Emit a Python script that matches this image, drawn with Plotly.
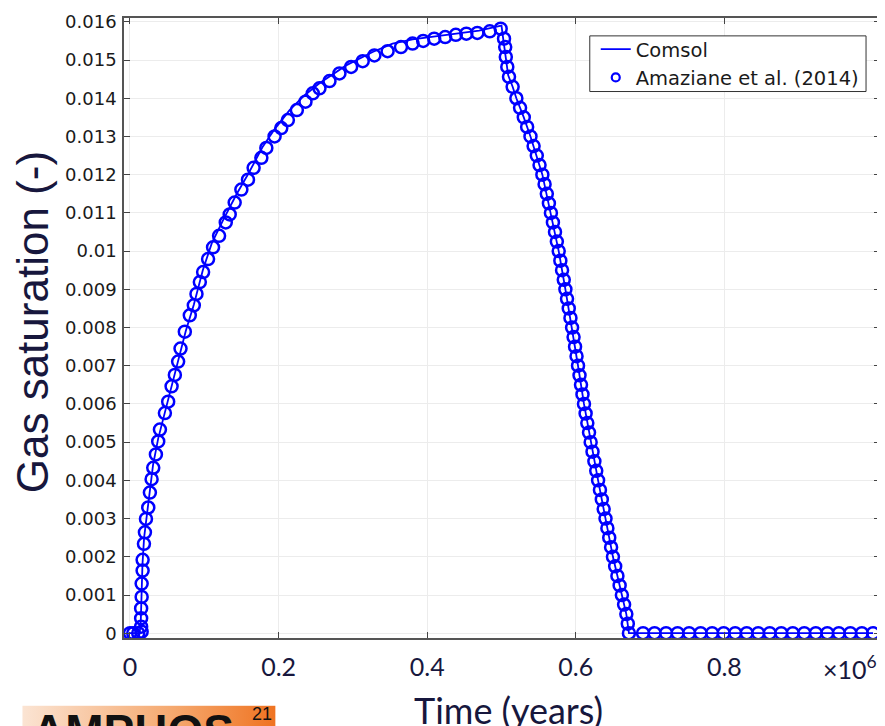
import base64
import plotly.graph_objects as go

# ---------------- data (time in 1e6 years, gas saturation) ----------------
comsol_t = [0.0, 0.013, 0.0145, 0.0155, 0.0168, 0.019, 0.022, 0.026, 0.031, 0.038,
            0.047, 0.056, 0.065, 0.075, 0.086, 0.098, 0.11, 0.125, 0.1432, 0.16,
            0.1789, 0.195, 0.2148, 0.235, 0.255, 0.2909, 0.3266, 0.3534, 0.3803, 0.4251,
            0.4698, 0.4966, 0.5, 0.502, 0.505, 0.509, 0.515, 0.52, 0.53, 0.539,
            0.555, 0.5665, 0.577, 0.586, 0.595, 0.603, 0.611, 0.62, 0.63, 0.64,
            0.65, 0.662, 0.668, 0.6715, 1.0]
comsol_s = [0.0, 0.0, 0.0003, 0.001, 0.0018, 0.0025, 0.003, 0.0037, 0.0044, 0.0051,
            0.0058, 0.0065, 0.0072, 0.0079, 0.0086, 0.0095, 0.0102, 0.0108, 0.01148, 0.01205,
            0.01274, 0.0132, 0.01369, 0.01408, 0.01439, 0.01486, 0.01521, 0.01543, 0.01554, 0.01566,
            0.01577, 0.01589, 0.0159, 0.0156, 0.0151, 0.0146, 0.0143, 0.014, 0.0135, 0.013,
            0.012, 0.011, 0.010, 0.009, 0.008, 0.007, 0.006, 0.005, 0.004, 0.003,
            0.002, 0.001, 0.0005, 0.0, 0.0]

rise_t = [0.0, 0.0044, 0.0111, 0.0157, 0.0150, 0.0150, 0.0150, 0.0157, 0.0157, 0.0170,
          0.0170, 0.0188, 0.0201, 0.0215, 0.0246, 0.0268, 0.0291, 0.0313, 0.0349, 0.0380,
          0.0403, 0.0470, 0.0514, 0.0560, 0.0604, 0.0648, 0.0680, 0.0738, 0.0805, 0.0859,
          0.0895, 0.0940, 0.0984, 0.1051, 0.1118, 0.1199, 0.1289, 0.1342, 0.1409, 0.1499,
          0.1588, 0.1664, 0.1768, 0.1835, 0.1946, 0.2036, 0.2125, 0.2246, 0.2362, 0.2460,
          0.2550, 0.2685, 0.2819, 0.2976, 0.3132, 0.3289, 0.3467, 0.3647, 0.3803, 0.3946,
          0.4094, 0.4242, 0.4385, 0.4527, 0.4675, 0.4842, 0.4989]
rise_s = [0.0, 0.0, 0.0, 0.00004, 0.00017, 0.00039, 0.00065, 0.00095, 0.0013, 0.00164,
          0.00192, 0.00234, 0.00264, 0.00299, 0.00329, 0.00368, 0.00403, 0.00433, 0.00468, 0.00502,
          0.00533, 0.00576, 0.00606, 0.00646, 0.00676, 0.00711, 0.00745, 0.00789, 0.00832, 0.00858,
          0.00888, 0.00919, 0.00945, 0.00979, 0.0101, 0.0104, 0.01075, 0.01096, 0.01127, 0.01161,
          0.01187, 0.01218, 0.01244, 0.0127, 0.0130, 0.01322, 0.01343, 0.01369, 0.01391, 0.01413,
          0.01426, 0.01445, 0.01465, 0.01482, 0.01497, 0.01512, 0.01523, 0.01534, 0.01543, 0.0155,
          0.01556, 0.0156, 0.01566, 0.01569, 0.01571, 0.01575, 0.01582]

fall_t = [0.5034, 0.5050, 0.5058, 0.5078, 0.5101, 0.5150, 0.5200, 0.5250, 0.5300, 0.5345,
          0.5390, 0.5432, 0.5475, 0.5512, 0.5550, 0.5580, 0.5610, 0.5638, 0.5665, 0.5692,
          0.5720, 0.5745, 0.5770, 0.5792, 0.5815, 0.5838, 0.5860, 0.5882, 0.5905, 0.5928,
          0.5950, 0.5970, 0.5990, 0.6010, 0.6030, 0.6050, 0.6070, 0.6090, 0.6110, 0.6132,
          0.6155, 0.6178, 0.6200, 0.6225, 0.6250, 0.6275, 0.6300, 0.6325, 0.6350, 0.6375,
          0.6400, 0.6425, 0.6450, 0.6475, 0.6500, 0.6530, 0.6560, 0.6590, 0.6620, 0.6650,
          0.6680, 0.6700, 0.6715]
fall_s = [0.01556, 0.01534, 0.01508, 0.01482, 0.01456, 0.0143, 0.0140, 0.01375, 0.0135, 0.01325,
          0.0130, 0.01275, 0.0125, 0.01225, 0.0120, 0.01175, 0.0115, 0.01125, 0.0110, 0.01075,
          0.0105, 0.01025, 0.0100, 0.00975, 0.0095, 0.00925, 0.0090, 0.00875, 0.0085, 0.00825,
          0.0080, 0.00775, 0.0075, 0.00725, 0.0070, 0.00675, 0.0065, 0.00625, 0.0060, 0.00575,
          0.0055, 0.00525, 0.0050, 0.00475, 0.0045, 0.00425, 0.0040, 0.00375, 0.0035, 0.00325,
          0.0030, 0.00275, 0.0025, 0.00225, 0.0020, 0.00175, 0.0015, 0.00125, 0.0010, 0.00075,
          0.0005, 0.00025, 0.0]

tail_t = [0.6905, 0.706, 0.7215, 0.737, 0.7525, 0.768, 0.7835, 0.799, 0.8145, 0.83,
          0.8455, 0.861, 0.8765, 0.892, 0.9075, 0.923, 0.9385, 0.954, 0.9695, 0.985, 1.0]
tail_s = [0.0, 0.0, 0.0, 0.0, 0.0, 0.0, 0.0, 0.0, 0.0, 0.0,
          0.0, 0.0, 0.0, 0.0, 0.0, 0.0, 0.0, 0.0, 0.0, 0.0, 0.0]

amaz_t = rise_t + fall_t + tail_t
amaz_s = rise_s + fall_s + tail_s

x_tickvals = [0, 0.2, 0.4, 0.6, 0.8]
x_ticktext = ["0", "0.2", "0.4", "0.6", "0.8"]
y_tickvals = [0, 0.001, 0.002, 0.003, 0.004, 0.005, 0.006, 0.007, 0.008,
              0.009, 0.01, 0.011, 0.012, 0.013, 0.014, 0.015, 0.016]
y_ticktext = ["0", "0.001", "0.002", "0.003", "0.004", "0.005", "0.006", "0.007", "0.008",
              "0.009", "0.01", "0.011", "0.012", "0.013", "0.014", "0.015", "0.016"]

# ---------------- figure ----------------
NAVY = "#17173d"
BLUE = "#0000ff"

fig = go.Figure()
fig.add_trace(go.Scatter(x=amaz_t, y=amaz_s, mode="markers", name="Amaziane et al. (2014)",
                         showlegend=False,
                         marker=dict(symbol="circle-open", size=12, color=BLUE,
                                     line=dict(width=2.5, color=BLUE))))
fig.add_trace(go.Scatter(x=comsol_t, y=comsol_s, mode="lines", name="Comsol",
                         showlegend=False, line=dict(color=BLUE, width=1.8)))
# legend entries (small legend symbols as in the reference)
fig.add_trace(go.Scatter(x=[None], y=[None], mode="lines", name="Comsol",
                         line=dict(color=BLUE, width=1.8)))
fig.add_trace(go.Scatter(x=[None], y=[None], mode="markers", name="Amaziane et al. (2014)",
                         marker=dict(symbol="circle-open", size=8, color=BLUE,
                                     line=dict(width=2.2, color=BLUE))))

# the page body has an 8px margin: size the figure so it ends at the window edge
OFF = 8
WIN_W, WIN_H = 885, 726
W, H = WIN_W - OFF, WIN_H - OFF
# plot-area edges in window pixels
PL, PR, PT, PB = 124, 882, 14, 638
ML, MR, MT, MB = PL - OFF, WIN_W - PR, PT - OFF, WIN_H - PB
PW, PH = PR - PL, PB - PT


def px(xp):  # window pixel x -> paper
    return (xp - PL) / PW


def py(yp):  # window pixel y -> paper
    return (PB - yp) / PH


svg = ('<svg xmlns="http://www.w3.org/2000/svg" width="254" height="30">'
       '<defs><linearGradient id="g" x1="0" y1="0" x2="1" y2="0">'
       '<stop offset="0" stop-color="#fbe4d3"/><stop offset="0.6" stop-color="#f5a86e"/>'
       '<stop offset="1" stop-color="#ef7321"/></linearGradient></defs>'
       '<rect width="254" height="30" fill="url(#g)"/></svg>')
logo_src = "data:image/svg+xml;base64," + base64.b64encode(svg.encode()).decode()

fig.update_layout(
    width=W, height=H,
    margin=dict(l=ML, r=MR, t=MT, b=MB),
    paper_bgcolor="white", plot_bgcolor="white",
    showlegend=True,
    legend=dict(x=px(597), y=py(26), xanchor="left", yanchor="top",
                bgcolor="rgba(0,0,0,0)", borderwidth=0,
                font=dict(family="DejaVu Sans", size=19.5, color="#1a1a1a"),
                tracegroupgap=0),
    xaxis=dict(range=[-0.00805, 1.0094], tickmode="array",
               tickvals=x_tickvals, ticktext=x_ticktext,
               ticks="inside", ticklen=6, tickwidth=1.2, tickcolor="#444444",
               showline=True, linecolor="#555555", linewidth=1.5, mirror="ticks",
               showgrid=True, gridcolor="#ececec", gridwidth=1, zeroline=False,
               tickfont=dict(family="Lato", size=25, color=NAVY),
               ticklabelstandoff=6, ticklabeloverflow="allow"),
    yaxis=dict(range=[-0.000125, 0.0161], tickmode="array",
               tickvals=y_tickvals, ticktext=y_ticktext,
               ticks="inside", ticklen=6, tickwidth=1.2, tickcolor="#444444",
               showline=True, linecolor="#555555", linewidth=1.5, mirror="ticks",
               showgrid=True, gridcolor="#ececec", gridwidth=1, zeroline=False,
               tickfont=dict(family="DejaVu Sans", size=18, color="#1a1a1a"),
               ticklabelstandoff=2, ticklabeloverflow="allow"),
    shapes=[dict(type="rect", xref="paper", yref="paper",
                 x0=px(591), x1=px(868), y0=py(88), y1=py(32),
                 fillcolor="white", line=dict(color="#333333", width=1), layer="above")],
    images=[dict(source=logo_src, xref="paper", yref="paper",
                 x=px(22), y=py(706), sizex=254 / PW, sizey=30 / PH,
                 xanchor="left", yanchor="top", sizing="stretch", layer="above")],
    annotations=[
        dict(text="×10<sup>6</sup>", xref="paper", yref="paper", x=px(852), y=py(668),
             xanchor="center", yanchor="middle", showarrow=False,
             font=dict(family="Lato", size=25, color=NAVY)),
        dict(text="Time (years)", xref="paper", yref="paper", x=px(510), y=py(710),
             xanchor="center", yanchor="middle", showarrow=False,
             font=dict(family="Lato", size=36, color=NAVY)),
        dict(text="Gas saturation (-)", xref="paper", yref="paper", x=px(32), y=py(320),
             xanchor="center", yanchor="middle", textangle=-90, showarrow=False,
             font=dict(family="Liberation Sans", size=44, color=NAVY)),
        dict(text="<b>AMPHOS</b>", xref="paper", yref="paper", x=px(30), y=py(703),
             xanchor="left", yanchor="top", showarrow=False,
             font=dict(family="Liberation Sans", size=46, color="#111111")),
        dict(text="21", xref="paper", yref="paper", x=px(250), y=py(714),
             xanchor="left", yanchor="middle", showarrow=False,
             font=dict(family="Liberation Sans", size=18, color="#111111")),
    ],
)

fig.write_html("out.html")
